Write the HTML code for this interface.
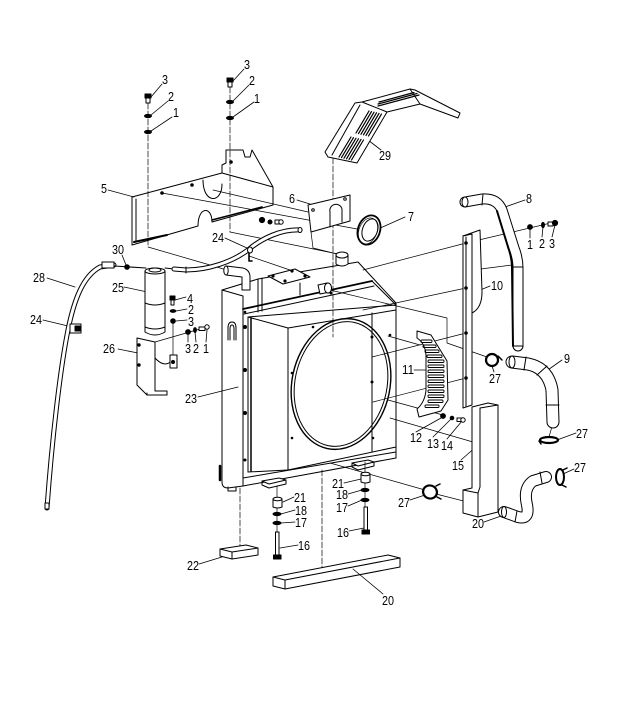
<!DOCTYPE html>
<html><head><meta charset="utf-8"><style>
html,body{margin:0;padding:0;background:#fff;width:621px;height:718px;overflow:hidden}
svg{display:block}
text{font-family:"Liberation Sans Narrow","Liberation Sans",sans-serif;font-size:13px;fill:#000;stroke:none}
</style></head><body>
<svg width="621" height="718" viewBox="0 0 621 718" xmlns="http://www.w3.org/2000/svg">
<g fill="none" stroke="#000" stroke-width="1" stroke-linejoin="round" stroke-linecap="round">

<!-- ===== radiator ===== -->
<path d="M222,290 L258,279 L358,262 L396,303 L396,458 L243,486 L228,488 Q222,488 222,482 Z" fill="#fff" stroke="none"/>
<path d="M222,290 L222,482 Q222,488 228,488 L243,486"/>
<path d="M222,290 L243,296 L243,486"/>
<path d="M222,290 L258,279 L358,262 L396,303"/>
<line x1="258" y1="279" x2="258" y2="312"/>
<line x1="262" y1="278" x2="262" y2="311"/>
<line x1="300" y1="283" x2="300" y2="295"/>
<line x1="243" y1="309" x2="372" y2="281" stroke-width="1.8"/>
<line x1="244" y1="314" x2="374" y2="286"/>
<line x1="372" y1="281" x2="396" y2="305"/>
<line x1="248" y1="317" x2="396" y2="305"/>
<line x1="248" y1="317" x2="288" y2="328"/>
<line x1="288" y1="328" x2="396" y2="310"/>
<line x1="248" y1="317" x2="248" y2="472"/>
<line x1="251" y1="318" x2="251" y2="471" stroke-width="1.5"/>
<line x1="288" y1="328" x2="288" y2="470"/>
<line x1="396" y1="303" x2="396" y2="458"/>
<line x1="288" y1="470" x2="396" y2="447"/>
<line x1="248" y1="472" x2="288" y2="470"/>
<line x1="372" y1="313" x2="372" y2="452"/>
<line x1="243" y1="478" x2="396" y2="452"/>
<line x1="243" y1="486" x2="396" y2="458"/>
<line x1="220" y1="466" x2="220" y2="480" stroke-width="2.5"/>
<ellipse cx="341" cy="384" rx="49" ry="66" transform="rotate(12 341 384)" stroke-width="1.4"/>
<ellipse cx="341" cy="384" rx="46" ry="63" transform="rotate(12 341 384)"/>
<g fill="#000" stroke="none">
<circle cx="245" cy="327" r="2"/><circle cx="245" cy="370" r="2"/>
<circle cx="245" cy="413" r="2"/><circle cx="245" cy="460" r="1.5"/>
<circle cx="313" cy="327" r="1.3"/><circle cx="292" cy="373" r="1.3"/>
<circle cx="292" cy="438" r="1.3"/><circle cx="372" cy="337" r="1.5"/>
<circle cx="372" cy="382" r="1.5"/><circle cx="390" cy="335" r="1.3"/>
<circle cx="373" cy="438" r="1.3"/><circle cx="245" cy="312" r="1.3"/>
<circle cx="331" cy="293" r="1.5"/>
</g>
<path d="M228,340 L228,328 Q228,322 232,322 Q236,322 236,328 L236,340"/>
<path d="M230,340 L230,329 Q230,325 232,325 Q234,325 234,329 L234,340"/>
<path d="M262,481 L279,478 L286,480 L269,484 Z" fill="#fff"/>
<path d="M262,481 L262,485 L269,488 L286,484 L286,480"/>
<path d="M352,463 L368,460 L374,462 L358,466 Z" fill="#fff"/>
<path d="M352,463 L352,467 L358,470 L374,466 L374,462"/>
<path d="M228,487 L228,491 L236,491 L236,487"/>

<!-- ===== thin connection lines ===== -->
<g stroke-width="0.7">
<line x1="148" y1="103" x2="148" y2="247" stroke-dasharray="6 2"/>
<polyline points="148,247 210,265 240,274"/>
<line x1="230" y1="87" x2="230" y2="232" stroke-dasharray="6 2"/>
<polyline points="230,232 338,254"/>
<line x1="162" y1="193" x2="368" y2="231"/>
<line x1="213" y1="190" x2="308" y2="212"/>
<polyline points="311,232 313,248 337,254"/>
<line x1="333" y1="158" x2="333" y2="337" stroke-dasharray="6 2"/>
<polyline points="555,222 466,243 363,270"/>
<line x1="466" y1="288" x2="363" y2="310"/>
<line x1="466" y1="333" x2="372" y2="357"/>
<line x1="466" y1="378" x2="373" y2="402"/>
<line x1="473" y1="270" x2="512" y2="265"/>
<polyline points="330,290 447,318 447,343 487,357"/>
<line x1="420" y1="345" x2="388" y2="336"/>
<line x1="388" y1="400" x2="443" y2="415"/>
<line x1="390" y1="418" x2="473" y2="442"/>
<polyline points="330,463 425,490"/>
<line x1="436" y1="494" x2="503" y2="511"/>
<line x1="240" y1="488" x2="240" y2="548" stroke-dasharray="6 2"/>
<line x1="322" y1="470" x2="322" y2="574" stroke-dasharray="6 2"/>
<line x1="277" y1="486" x2="277" y2="532"/>
<line x1="365" y1="462" x2="365" y2="507"/>
<line x1="173" y1="321" x2="173" y2="362"/>
<line x1="207" y1="327" x2="155" y2="342"/>
<line x1="249" y1="256" x2="290" y2="270"/>
<line x1="553" y1="423" x2="549" y2="437"/>
</g>

<!-- ===== leaders ===== -->
<g stroke-width="0.8">
<line x1="162" y1="84" x2="151" y2="97"/>
<line x1="168" y1="101" x2="151" y2="115"/>
<line x1="172" y1="117" x2="151" y2="131"/>
<line x1="244" y1="69" x2="233" y2="81"/>
<line x1="249" y1="85" x2="233" y2="101"/>
<line x1="254" y1="102" x2="233" y2="117"/>
<line x1="368" y1="140" x2="381" y2="150"/>
<line x1="108" y1="190" x2="134" y2="197"/>
<line x1="297" y1="200" x2="310" y2="204"/>
<line x1="405" y1="217" x2="378" y2="229"/>
<line x1="525" y1="200" x2="505" y2="207"/>
<line x1="530" y1="238" x2="530" y2="229"/>
<line x1="542" y1="237" x2="543" y2="227"/>
<line x1="552" y1="237" x2="555" y2="225"/>
<line x1="225" y1="238" x2="247" y2="248"/>
<line x1="122" y1="255" x2="126" y2="265"/>
<line x1="47" y1="278" x2="75" y2="287"/>
<line x1="124" y1="287" x2="152" y2="293"/>
<line x1="186" y1="297" x2="175" y2="300"/>
<line x1="187" y1="309" x2="176" y2="311"/>
<line x1="187" y1="320" x2="176" y2="321"/>
<line x1="490" y1="286" x2="473" y2="293"/>
<line x1="43" y1="320" x2="68" y2="326"/>
<line x1="188" y1="342" x2="188" y2="334"/>
<line x1="196" y1="342" x2="195" y2="332"/>
<line x1="206" y1="342" x2="207" y2="330"/>
<line x1="118" y1="349" x2="138" y2="353"/>
<line x1="414" y1="370" x2="428" y2="370"/>
<line x1="494" y1="372" x2="492" y2="366"/>
<line x1="562" y1="360" x2="545" y2="372"/>
<line x1="198" y1="397" x2="238" y2="387"/>
<line x1="416" y1="432" x2="441" y2="418"/>
<line x1="433" y1="437" x2="451" y2="419"/>
<line x1="447" y1="439" x2="462" y2="421"/>
<line x1="576" y1="433" x2="557" y2="440"/>
<line x1="461" y1="460" x2="478" y2="445"/>
<line x1="574" y1="469" x2="563" y2="474"/>
<line x1="344" y1="483" x2="361" y2="479"/>
<line x1="348" y1="494" x2="362" y2="490"/>
<line x1="348" y1="506" x2="362" y2="500"/>
<line x1="349" y1="531" x2="364" y2="528"/>
<line x1="294" y1="497" x2="283" y2="502"/>
<line x1="295" y1="510" x2="281" y2="514"/>
<line x1="295" y1="522" x2="281" y2="523"/>
<line x1="298" y1="545" x2="280" y2="548"/>
<line x1="410" y1="500" x2="425" y2="495"/>
<line x1="484" y1="522" x2="504" y2="515"/>
<line x1="199" y1="564" x2="222" y2="557"/>
<line x1="383" y1="594" x2="353" y2="569"/>
</g>

<!-- radiator top details (over lines) -->
<path d="M226,266 L243,268 Q250,270 250,277 L250,290 L242,290 L242,277 L226,275 Z" fill="#fff"/>
<ellipse cx="226" cy="270.5" rx="2.2" ry="4.5" fill="#fff"/>
<path d="M336,255 L336,264 Q342,268 348,264 L348,255" fill="#fff"/>
<ellipse cx="342" cy="255" rx="6" ry="3" fill="#fff"/>
<path d="M318,285 L327,283 L330,292 L320,294 Z" fill="#fff"/>
<ellipse cx="328" cy="288" rx="3.5" ry="5" fill="#fff"/>
<path d="M268,276 L295,269 L310,277 L283,284 Z" fill="#fff"/>
<g fill="#000" stroke="none">
<circle cx="273" cy="276" r="1.6"/><circle cx="292" cy="271" r="1.6"/>
<circle cx="305" cy="276" r="1.6"/><circle cx="285" cy="281" r="1.6"/>
</g>

<!-- ===== bolt stacks top ===== -->
<rect x="145" y="94" width="6" height="4" fill="#000"/>
<rect x="146" y="98" width="4" height="5" fill="#fff"/>
<ellipse cx="148" cy="116" rx="3.5" ry="1.6" fill="#000"/>
<ellipse cx="148" cy="132" rx="3.5" ry="1.6" fill="#000"/>
<rect x="227" y="78" width="6" height="4" fill="#000"/>
<rect x="228" y="82" width="4" height="5" fill="#fff"/>
<ellipse cx="230" cy="102" rx="3.5" ry="1.6" fill="#000"/>
<ellipse cx="230" cy="118" rx="3.5" ry="1.6" fill="#000"/>

<!-- ===== plate 5 ===== -->
<path d="M132,197 L222,173 L222,165 L226,163 L226,150 L243,150 L245,157 L250,157 L252,150 L273,187 L273,205 L212,222 C212,206 198,206 198,226 L132,245 Z"/>
<line x1="136" y1="199" x2="136" y2="242"/>
<line x1="134" y1="242" x2="167" y2="235" stroke-width="2"/>
<line x1="212" y1="220" x2="262" y2="207" stroke-width="1.6"/>
<path d="M203,180 C203,204 222,204 222,184"/>
<line x1="222" y1="173" x2="273" y2="187"/>
<circle cx="162" cy="193" r="1.3" fill="#000"/>
<circle cx="192" cy="185" r="1.3" fill="#000"/>
<circle cx="231" cy="162" r="1.3" fill="#000"/>
<circle cx="262" cy="220" r="2.6" fill="#000"/>
<circle cx="270" cy="222" r="2" fill="#000"/>
<rect x="275" y="220" width="7" height="4" fill="#fff"/>
<circle cx="281" cy="222" r="2.2" fill="#fff"/>

<!-- ===== plate 6 ===== -->
<path d="M308,205 L350,195 L350,221 L311,232 Z" fill="#fff"/>
<path d="M330,227 L330,212 A6,6 0 0 1 342,209 L342,222"/>
<circle cx="313" cy="210" r="1.3"/>
<circle cx="345" cy="199" r="1.3"/>

<!-- ===== ring 7 ===== -->
<ellipse cx="369" cy="230" rx="11" ry="15" transform="rotate(20 369 230)" stroke-width="1.8" fill="#fff"/>
<ellipse cx="370" cy="230" rx="7.5" ry="11.5" transform="rotate(20 370 230)"/>
<ellipse cx="368" cy="231" rx="9" ry="13.5" transform="rotate(20 368 231)" stroke-width="0.6"/>

<!-- ===== part 29 ===== -->
<path d="M325,152 L355,103 L362,102 L410,89 L415,90 L460,113 L458,118 L420,104 L387,112 L357,163 L328,157 Z" fill="#fff"/>
<path d="M332,155 L360,105"/>
<line x1="362" y1="102" x2="387" y2="112"/>
<line x1="410" y1="89" x2="420" y2="104"/>
<g stroke-width="1.2">
<line x1="356" y1="133" x2="369" y2="111"/><line x1="358.5" y1="133.6" x2="371.5" y2="111.6"/>
<line x1="361" y1="134.2" x2="374" y2="112.2"/><line x1="363.5" y1="134.8" x2="376.5" y2="112.8"/>
<line x1="366" y1="135.4" x2="379" y2="113.4"/><line x1="368.5" y1="136" x2="381.5" y2="114"/>
<line x1="339" y1="157" x2="351" y2="137"/><line x1="341.5" y1="157.6" x2="353.5" y2="137.6"/>
<line x1="344" y1="158.2" x2="356" y2="138.2"/><line x1="346.5" y1="158.8" x2="358.5" y2="138.8"/>
<line x1="349" y1="159.4" x2="361" y2="139.4"/><line x1="351.5" y1="160" x2="363.5" y2="140"/>
<line x1="378" y1="106" x2="419" y2="95"/><line x1="378" y1="104" x2="417" y2="93.5"/>
<line x1="379" y1="102" x2="414" y2="92.5"/>
</g>

<!-- ===== hose 8 ===== -->
<path d="M465,202 L482,199 Q497,198 502,210 L514,248 Q518,258 518,268 L518,346" stroke-width="11"/>
<path d="M465,202 L482,199 Q497,198 502,210 L514,248 Q518,258 518,268 L518,346" stroke-width="9" stroke="#fff"/>
<path d="M497,211 L508,247 Q512,258 512,268 L513,346" stroke-width="2"/>
<ellipse cx="465" cy="202" rx="3" ry="5" fill="#fff"/>
<line x1="483" y1="194" x2="482" y2="205"/>
<line x1="513" y1="267" x2="523" y2="267"/>
<line x1="513" y1="346" x2="523" y2="346"/>
<circle cx="530" cy="227" r="2.4" fill="#000"/>
<ellipse cx="543" cy="225" rx="1.5" ry="2.6" fill="#000"/>
<rect x="548" y="222" width="5" height="4" fill="#fff"/>
<circle cx="555" cy="223" r="2.6" fill="#000"/>

<!-- ===== bracket 10 ===== -->
<path d="M463,236 L480,230 L482,292 Q482,308 472,313" fill="#fff"/>
<path d="M463,236 L472,234 L472,405 L463,408 Z" fill="#fff"/>
<line x1="466" y1="237" x2="466" y2="406"/>
<circle cx="466" cy="243" r="1.3" fill="#000"/>
<circle cx="466" cy="288" r="1.3" fill="#000"/>
<circle cx="466" cy="333" r="1.3" fill="#000"/>
<circle cx="466" cy="378" r="1.3" fill="#000"/>

<!-- ===== grille 11 ===== -->
<path d="M417,331 L431,335 L447,361 L448,400 L441,411 L419,417 L417,409 Q425,402 426,390 L426,355 Q425,343 417,338 Z" fill="#fff"/>
<g stroke-width="0.9">
<rect x="421" y="340" width="11" height="2.5" rx="1"/>
<rect x="423" y="345" width="13" height="2.5" rx="1"/>
<rect x="425" y="350" width="14" height="2.5" rx="1"/>
<rect x="427" y="355" width="15" height="2.5" rx="1"/>
<rect x="428" y="360" width="16" height="2.5" rx="1"/>
<rect x="428" y="365" width="16" height="2.5" rx="1"/>
<rect x="428" y="370" width="16" height="2.5" rx="1"/>
<rect x="428" y="375" width="16" height="2.5" rx="1"/>
<rect x="428" y="380" width="16" height="2.5" rx="1"/>
<rect x="428" y="385" width="16" height="2.5" rx="1"/>
<rect x="428" y="390" width="16" height="2.5" rx="1"/>
<rect x="428" y="395" width="16" height="2.5" rx="1"/>
<rect x="428" y="400" width="15" height="2.5" rx="1"/>
<rect x="425" y="405" width="14" height="2.5" rx="1"/>
</g>
<circle cx="443" cy="416" r="2.4" fill="#000"/>
<circle cx="452" cy="418" r="1.8" fill="#000"/>
<rect x="457" y="418" width="6" height="3.5" fill="#fff"/>
<circle cx="463" cy="420" r="2.2" fill="#fff"/>

<!-- ===== pipes ===== -->
<path d="M47,508 C52,440 60,370 68,330 C74,300 83,276 100,267 L114,265" stroke-width="5"/>
<path d="M47,508 C52,440 60,370 68,330 C74,300 83,276 100,267 L114,265" stroke-width="3" stroke="#fff"/>
<rect x="45" y="503" width="4" height="6" fill="#fff"/>
<rect x="102" y="262" width="12" height="6" fill="#fff"/>
<rect x="70" y="324" width="11" height="9" fill="#fff"/>
<rect x="75" y="326" width="5" height="5" fill="#000"/>
<line x1="114" y1="266" x2="146" y2="268"/>
<circle cx="127" cy="267" r="2.3" fill="#000"/>
<line x1="165" y1="268" x2="174" y2="269"/>
<path d="M174,269 L186,270 C208,270 232,262 248,250 C262,238 282,229 300,230" stroke-width="5"/>
<path d="M174,269 L186,270 C208,270 232,262 248,250 C262,238 282,229 300,230" stroke-width="3" stroke="#fff"/>
<line x1="186" y1="267" x2="186" y2="273"/>
<ellipse cx="300" cy="230" rx="2" ry="2.5" fill="#fff"/>
<path d="M249,252 L249,261 L252,261" stroke-width="1.6"/>
<ellipse cx="250" cy="250" rx="2.5" ry="3" fill="#fff"/>

<!-- ===== filter 25 ===== -->
<path d="M145,271 L145,332 Q155,338 165,332 L165,271" fill="#fff"/>
<ellipse cx="155" cy="271" rx="10" ry="3" fill="#fff"/>
<ellipse cx="155" cy="270" rx="6" ry="2"/>
<path d="M145,303 Q155,307 165,303"/>
<path d="M145,327 Q155,331 165,327"/>
<!-- bracket 26 -->
<path d="M137,338 L155,342 L155,391 L167,391 L167,395 L147,395 L137,385 Z" fill="#fff"/>
<line x1="147" y1="393" x2="147" y2="395"/>
<path d="M155,358 Q166,370 174,358"/>
<rect x="170" y="355" width="7" height="13" fill="#fff"/>
<circle cx="173" cy="362" r="1.5" fill="#000"/>
<circle cx="139" cy="345" r="1.2" fill="#000"/>
<circle cx="139" cy="365" r="1.2" fill="#000"/>
<rect x="170" y="296" width="5" height="4" fill="#000"/>
<rect x="171" y="300" width="3" height="5" fill="#fff"/>
<ellipse cx="173" cy="311" rx="2.8" ry="1.4" fill="#000"/>
<circle cx="173" cy="321" r="2.3" fill="#000"/>
<circle cx="188" cy="332" r="2.4" fill="#000"/>
<ellipse cx="195" cy="330" rx="1.4" ry="2.4" fill="#000"/>
<rect x="199" y="327" width="6" height="3.5" fill="#fff"/>
<circle cx="207" cy="327" r="2.2" fill="#fff"/>

<!-- ===== hose 9 ===== -->
<path d="M512,362 L528,364 Q548,368 552,390 L553,422" stroke-width="13"/>
<path d="M512,362 L528,364 Q548,368 552,390 L553,422" stroke-width="11" stroke="#fff"/>
<ellipse cx="512" cy="362" rx="3" ry="6" fill="#fff"/>
<line x1="526" y1="357" x2="524" y2="370"/>
<line x1="537" y1="375" x2="547" y2="366"/>
<line x1="546" y1="405" x2="559" y2="405"/>
<!-- clamps 27 -->
<circle cx="492" cy="360" r="6" stroke-width="2.2" fill="#fff"/>
<line x1="498" y1="356" x2="502" y2="360" stroke-width="1.5"/>
<ellipse cx="549" cy="440" rx="9" ry="3" stroke-width="2.2" fill="#fff"/>
<line x1="539" y1="441" x2="541" y2="444" stroke-width="1.5"/>
<ellipse cx="560" cy="477" rx="4" ry="8" stroke-width="2" fill="#fff"/>
<line x1="563" y1="470" x2="567" y2="468" stroke-width="1.5"/>
<line x1="562" y1="485" x2="566" y2="487" stroke-width="1.5"/>
<ellipse cx="430" cy="492" rx="7" ry="6.5" transform="rotate(20 430 492)" stroke-width="2.2" fill="#fff"/>
<line x1="436" y1="486" x2="440" y2="484" stroke-width="1.5"/>
<line x1="437" y1="497" x2="441" y2="499" stroke-width="1.5"/>

<!-- ===== part 15 ===== -->
<path d="M472,407 L488,403 L498,405 L498,512 L478,517 L463,513 L463,490 L472,488 Z" fill="#fff"/>
<line x1="472" y1="407" x2="472" y2="488"/>
<line x1="480" y1="408" x2="480" y2="487"/>
<line x1="480" y1="408" x2="498" y2="405"/>
<line x1="463" y1="490" x2="478" y2="493"/>
<line x1="478" y1="493" x2="478" y2="517"/>
<line x1="478" y1="493" x2="480" y2="487"/>

<!-- ===== hose 20 ===== -->
<path d="M504,512 L518,517 Q530,520 527,505 Q523,488 533,481 L546,477" stroke-width="12"/>
<path d="M504,512 L518,517 Q530,520 527,505 Q523,488 533,481 L546,477" stroke-width="10" stroke="#fff"/>
<ellipse cx="504" cy="512" rx="2.5" ry="5.5" fill="#fff"/>
<line x1="517" y1="511" x2="515" y2="522"/>
<line x1="540" y1="472" x2="542" y2="483"/>

<!-- ===== bottom bolt stacks ===== -->
<path d="M273,499 L273,507 Q277.5,509 282,507 L282,499" fill="#fff"/>
<ellipse cx="277.5" cy="499" rx="4.5" ry="1.8" fill="#fff"/>
<ellipse cx="277" cy="514" rx="4" ry="1.6" fill="#000"/>
<ellipse cx="277" cy="523" rx="4" ry="1.6" fill="#000"/>
<rect x="275.5" y="532" width="3.5" height="23" fill="#fff"/>
<rect x="273.5" y="555" width="7.5" height="4" fill="#000"/>
<path d="M361,474 L361,482 Q365.5,484 370,482 L370,474" fill="#fff"/>
<ellipse cx="365.5" cy="474" rx="4.5" ry="1.8" fill="#fff"/>
<ellipse cx="365" cy="490" rx="4" ry="1.6" fill="#000"/>
<ellipse cx="365" cy="500" rx="4" ry="1.6" fill="#000"/>
<rect x="364" y="507" width="3.5" height="23" fill="#fff"/>
<rect x="362" y="530" width="7.5" height="4" fill="#000"/>

<!-- ===== block 22 ===== -->
<path d="M220,549 L246,545 L258,548 L232,552 Z" fill="#fff"/>
<path d="M220,549 L220,556 L232,559 L258,555 L258,548"/>
<line x1="232" y1="552" x2="232" y2="559"/>

<!-- ===== bar 20 ===== -->
<path d="M273,577 L388,555 L400,558 L285,580 Z" fill="#fff"/>
<path d="M273,577 L273,586 L285,589 L400,567 L400,558"/>
<line x1="285" y1="580" x2="285" y2="589"/>
</g>

<!-- ===== labels ===== -->
<g>
<text x="162" y="84" textLength="6" lengthAdjust="spacingAndGlyphs">3</text>
<text x="168" y="101" textLength="6" lengthAdjust="spacingAndGlyphs">2</text>
<text x="173" y="117" textLength="6" lengthAdjust="spacingAndGlyphs">1</text>
<text x="244" y="69" textLength="6" lengthAdjust="spacingAndGlyphs">3</text>
<text x="249" y="85" textLength="6" lengthAdjust="spacingAndGlyphs">2</text>
<text x="254" y="103" textLength="6" lengthAdjust="spacingAndGlyphs">1</text>
<text x="379" y="160" textLength="12" lengthAdjust="spacingAndGlyphs">29</text>
<text x="101" y="193" textLength="6" lengthAdjust="spacingAndGlyphs">5</text>
<text x="289" y="203" textLength="6" lengthAdjust="spacingAndGlyphs">6</text>
<text x="408" y="221" textLength="6" lengthAdjust="spacingAndGlyphs">7</text>
<text x="526" y="203" textLength="6" lengthAdjust="spacingAndGlyphs">8</text>
<text x="527" y="249" textLength="6" lengthAdjust="spacingAndGlyphs">1</text>
<text x="539" y="248" textLength="6" lengthAdjust="spacingAndGlyphs">2</text>
<text x="549" y="248" textLength="6" lengthAdjust="spacingAndGlyphs">3</text>
<text x="212" y="242" textLength="12" lengthAdjust="spacingAndGlyphs">24</text>
<text x="112" y="254" textLength="12" lengthAdjust="spacingAndGlyphs">30</text>
<text x="33" y="282" textLength="12" lengthAdjust="spacingAndGlyphs">28</text>
<text x="112" y="292" textLength="12" lengthAdjust="spacingAndGlyphs">25</text>
<text x="187" y="303" textLength="6" lengthAdjust="spacingAndGlyphs">4</text>
<text x="188" y="314" textLength="6" lengthAdjust="spacingAndGlyphs">2</text>
<text x="188" y="326" textLength="6" lengthAdjust="spacingAndGlyphs">3</text>
<text x="491" y="290" textLength="12" lengthAdjust="spacingAndGlyphs">10</text>
<text x="30" y="324" textLength="12" lengthAdjust="spacingAndGlyphs">24</text>
<text x="185" y="353" textLength="6" lengthAdjust="spacingAndGlyphs">3</text>
<text x="193" y="353" textLength="6" lengthAdjust="spacingAndGlyphs">2</text>
<text x="203" y="353" textLength="6" lengthAdjust="spacingAndGlyphs">1</text>
<text x="103" y="353" textLength="12" lengthAdjust="spacingAndGlyphs">26</text>
<text x="402" y="374" textLength="12" lengthAdjust="spacingAndGlyphs">11</text>
<text x="489" y="383" textLength="12" lengthAdjust="spacingAndGlyphs">27</text>
<text x="564" y="363" textLength="6" lengthAdjust="spacingAndGlyphs">9</text>
<text x="185" y="403" textLength="12" lengthAdjust="spacingAndGlyphs">23</text>
<text x="410" y="442" textLength="12" lengthAdjust="spacingAndGlyphs">12</text>
<text x="427" y="448" textLength="12" lengthAdjust="spacingAndGlyphs">13</text>
<text x="441" y="450" textLength="12" lengthAdjust="spacingAndGlyphs">14</text>
<text x="576" y="438" textLength="12" lengthAdjust="spacingAndGlyphs">27</text>
<text x="452" y="470" textLength="12" lengthAdjust="spacingAndGlyphs">15</text>
<text x="574" y="472" textLength="12" lengthAdjust="spacingAndGlyphs">27</text>
<text x="332" y="488" textLength="12" lengthAdjust="spacingAndGlyphs">21</text>
<text x="336" y="499" textLength="12" lengthAdjust="spacingAndGlyphs">18</text>
<text x="336" y="512" textLength="12" lengthAdjust="spacingAndGlyphs">17</text>
<text x="337" y="537" textLength="12" lengthAdjust="spacingAndGlyphs">16</text>
<text x="294" y="502" textLength="12" lengthAdjust="spacingAndGlyphs">21</text>
<text x="295" y="515" textLength="12" lengthAdjust="spacingAndGlyphs">18</text>
<text x="295" y="527" textLength="12" lengthAdjust="spacingAndGlyphs">17</text>
<text x="298" y="550" textLength="12" lengthAdjust="spacingAndGlyphs">16</text>
<text x="398" y="507" textLength="12" lengthAdjust="spacingAndGlyphs">27</text>
<text x="472" y="528" textLength="12" lengthAdjust="spacingAndGlyphs">20</text>
<text x="187" y="570" textLength="12" lengthAdjust="spacingAndGlyphs">22</text>
<text x="382" y="605" textLength="12" lengthAdjust="spacingAndGlyphs">20</text>
</g>
</svg>
</body></html>
